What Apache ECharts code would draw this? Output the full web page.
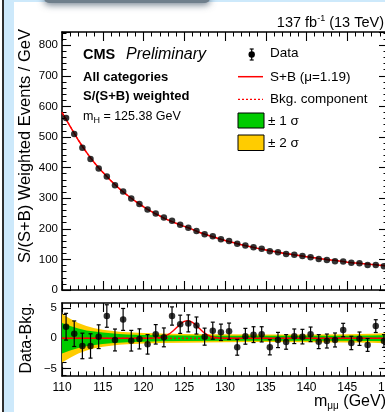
<!DOCTYPE html>
<html>
<head>
<meta charset="utf-8">
<script src="https://cdn.jsdelivr.net/npm/echarts@6/dist/echarts.min.js"></script>
<style>html,body{margin:0;padding:0;background:#fff;}#c{width:385px;height:412px;}</style>
</head>
<body>
<div id="c"></div>
<script>
// ---------------- data ----------------
const binCenters = [110.5,111.5,112.5,113.5,114.5,115.5,116.5,117.5,118.5,119.5,
  120.5,121.5,122.5,123.5,124.5,125.5,126.5,127.5,128.5,129.5,
  130.5,131.5,132.5,133.5,134.5,135.5,136.5,137.5,138.5,139.5,
  140.5,141.5,142.5,143.5,144.5,145.5,146.5,147.5,148.5,149.5];
const weightedEvents = [562,510,465,428,397,371,342,322,299,281,
  263,250,237,226,213,203,193,182,176,166,
  160,151,145,140,135,127,123,118,115,111,
  107,101,98,94,93,89,87,82,82,78];
const fitMass = [110,111,112,113,114,115,116,117,118,119,120,121,122,123,124,125,126,127,128,129,
  130,131,132,133,134,135,136,137,138,139,140,141,142,143,144,145,146,147,148,149,150];
const fitSB = [580,535,490,450,415,385,357,332,310,290,272,256,242,229,218,208,198,187,178,170,
  162,155,148,142,136,131,126,121,117,113,109,105,101,98,95,91,88.5,86,83.5,81,78.5];
const residVals = [1.9,0.75,-1.26,-1.26,0.26,3.66,-0.28,3.1,-0.4,-0.1,
  -1.0,0.65,0.15,3.66,2.3,2.45,2.1,0.27,1.25,0.98,
  1.15,-1.48,0.33,0.6,0.65,-1.48,-0.28,-0.6,0.33,0.27,
  0.65,-0.55,-0.45,-0.28,1.36,-0.77,-0.07,-1.1,2.0,-0.45];
const residErr = [2.2,2.1,2.1,2.0,1.95,1.85,1.8,1.8,1.7,1.65,
  1.6,1.6,1.55,1.5,1.5,1.4,1.4,1.4,1.4,1.35,
  1.35,1.3,1.3,1.3,1.25,1.25,1.25,1.2,1.2,1.2,
  1.2,1.15,1.15,1.15,1.1,1.1,1.1,1.05,1.05,1.05];
const bandMass = [110,111,112,113,114,115,116,117,118,120,122,125,130,135,140,145,148,150];
const sigma1 = [2.5,2.0,1.6,1.3,1.1,0.95,0.82,0.72,0.64,0.55,0.5,0.46,0.42,0.4,0.4,0.42,0.45,0.5];
const sigma2 = [4.0,3.2,2.5,2.0,1.65,1.4,1.22,1.08,0.98,0.85,0.78,0.72,0.66,0.63,0.64,0.68,0.75,0.85];
const sigMass = [110,120,120.5,121,121.5,122,122.5,123,123.5,124,124.5,125,125.5,126,126.5,127,127.5,128,128.5,129,129.5,130,131,150];
const sigVals = [0,0,0.01,0.03,0.06,0.12,0.29,0.6,1.08,1.69,2.32,2.78,2.9,2.63,2.08,1.44,0.86,0.45,0.21,0.08,0.03,0.01,0,0];
const resBkgMass = [110,150];
const resBkgVals = [0,0];
const xTicksMajor = 5;
const topYTicks = 100;
const resMajorTicks = [-5,0,5];
const resMinorTicks = [-6,-5,-4,-3,-2,-1,0,1,2,3,4,5];

// ---------------- style ----------------
const FF = '"Liberation Sans", Arial, Helvetica, sans-serif';
const BLACK = '#000';
const RED = '#ff0000';
const GREEN = '#00cc00';
const YELLOW = '#ffcc00';
const lineSt = {color: BLACK, width: 1.6};

function xAx(grid, pos, showLabel) {
  return {
    type: 'value', gridIndex: grid, position: pos, min: 110, max: 150, interval: xTicksMajor,
    axisLine: {show: true, onZero: false, lineStyle: lineSt},
    axisTick: {show: true, inside: true, length: 9, lineStyle: {color: BLACK, width: 1.1}},
    minorTick: {show: true, splitNumber: 5, length: 4.5, lineStyle: {color: BLACK, width: 1}},
    splitLine: {show: false}, minorSplitLine: {show: false},
    axisLabel: {show: showLabel, color: BLACK, fontSize: 12, fontFamily: FF, margin: 6, hideOverlap: false}
  };
}
function resY(pos, ticks, len, showLine, showLabel) {
  return {
    type: 'value', gridIndex: 1, position: pos, min: -6.2, max: 5.8,
    axisLine: {show: showLine, onZero: false, lineStyle: lineSt},
    axisTick: {show: true, inside: true, length: len, customValues: ticks, lineStyle: {color: BLACK, width: 1.1}},
    splitLine: {show: false},
    axisLabel: {show: showLabel, customValues: resMajorTicks, color: BLACK, fontSize: 11.5, fontFamily: FF, margin: 5,
      formatter: v => (v < 0 ? '\u2212' + Math.abs(v) : String(v))}
  };
}
function topY(pos, showLabel) {
  return {
    type: 'value', gridIndex: 0, position: pos, min: 0, max: 843, interval: topYTicks,
    axisLine: {show: true, onZero: false, lineStyle: lineSt},
    axisTick: {show: true, inside: true, length: 9, lineStyle: {color: BLACK, width: 1.1}},
    minorTick: {show: true, splitNumber: 5, length: 4.5, lineStyle: {color: BLACK, width: 1}},
    splitLine: {show: false}, minorSplitLine: {show: false},
    axisLabel: {show: showLabel, showMaxLabel: false, color: BLACK, fontSize: 11.5, fontFamily: FF, margin: 4,
      formatter: v => (v > 800 ? '' : String(v))}
  };
}

const chart = echarts.init(document.getElementById('c'), null, {renderer: 'canvas'});

const option = {
  animation: false,
  backgroundColor: '#fff',
  grid: [
    {left: 62, top: 32, right: -3, height: 258, containLabel: false, outerBoundsMode: 'none'},
    {left: 62, top: 303, right: -3, height: 73, containLabel: false, outerBoundsMode: 'none'}
  ],
  xAxis: [xAx(0, 'bottom', false), xAx(0, 'top', false), xAx(1, 'bottom', true), xAx(1, 'top', false)],
  yAxis: [
    topY('left', true), topY('right', false),
    resY('left', resMajorTicks, 9, true, true), resY('left', resMinorTicks, 4.5, false, false),
    resY('right', resMajorTicks, 9, true, false), resY('right', resMinorTicks, 4.5, false, false)
  ],
  series: [
    {type: 'line', xAxisIndex: 0, yAxisIndex: 0, data: fitMass.map((m, i) => [m, fitSB[i]]),
      smooth: true, showSymbol: false, symbol: 'none', lineStyle: {color: RED, width: 1.2, type: [2, 2]}, z: 2},
    {type: 'line', xAxisIndex: 0, yAxisIndex: 0, data: fitMass.map((m, i) => [m, fitSB[i]]),
      smooth: true, showSymbol: false, symbol: 'none', lineStyle: {color: RED, width: 1.5}, z: 3},
    {type: 'scatter', xAxisIndex: 0, yAxisIndex: 0, data: binCenters.map((m, i) => [m, weightedEvents[i]]),
      symbol: 'circle', symbolSize: 6.5, itemStyle: {color: BLACK}, z: 5},
    {type: 'custom', xAxisIndex: 2, yAxisIndex: 2, clip: true,
      data: bandMass.map((m, i) => [m, sigma1[i], sigma2[i]]),
      encode: {x: 0, y: [1, 2]},
      renderItem: function (params, api) {
        if (params.dataIndex !== 0) return null;
        const poly = (arr) => {
          const up = bandMass.map((m, i) => api.coord([m, arr[i]]));
          const lo = bandMass.map((m, i) => api.coord([m, -arr[i]])).reverse();
          return up.concat(lo);
        };
        return {type: 'group', children: [
          {type: 'polygon', shape: {points: poly(sigma2), smooth: 0}, style: {fill: YELLOW}},
          {type: 'polygon', shape: {points: poly(sigma1), smooth: 0}, style: {fill: GREEN}}
        ]};
      }, z: 1},
    {type: 'line', xAxisIndex: 2, yAxisIndex: 2, data: resBkgMass.map((m, i) => [m, resBkgVals[i]]),
      showSymbol: false, symbol: 'none', lineStyle: {color: RED, width: 1.2, type: [2, 2]}, z: 2},
    {type: 'line', xAxisIndex: 2, yAxisIndex: 2, data: sigMass.map((m, i) => [m, sigVals[i]]),
      smooth: 0.3, showSymbol: false, symbol: 'none', lineStyle: {color: RED, width: 1.4}, z: 3},
    {type: 'custom', xAxisIndex: 2, yAxisIndex: 2, clip: true,
      data: binCenters.map((m, i) => [m, residVals[i] - residErr[i], residVals[i] + residErr[i]]),
      encode: {x: 0, y: [1, 2]},
      renderItem: function (params, api) {
        const lo = api.coord([api.value(0), api.value(1)]);
        const hi = api.coord([api.value(0), api.value(2)]);
        const st = {stroke: BLACK, lineWidth: 1.2};
        return {type: 'group', children: [
          {type: 'line', shape: {x1: lo[0], y1: lo[1], x2: hi[0], y2: hi[1]}, style: st},
          {type: 'line', shape: {x1: lo[0] - 2, y1: lo[1], x2: lo[0] + 2, y2: lo[1]}, style: st},
          {type: 'line', shape: {x1: hi[0] - 2, y1: hi[1], x2: hi[0] + 2, y2: hi[1]}, style: st}
        ]};
      }, z: 4},
    {type: 'scatter', xAxisIndex: 2, yAxisIndex: 2, data: binCenters.map((m, i) => [m, residVals[i]]),
      symbol: 'circle', symbolSize: 6.5, itemStyle: {color: BLACK}, z: 5}
  ],
  graphic: [
    // page decorations
    {type: 'rect', shape: {x: 2, y: 0, width: 2, height: 412}, style: {fill: '#2e2e2e'}, z: 100},
    {type: 'rect', shape: {x: 4, y: 0, width: 10, height: 412}, style: {fill: '#cde9fb'}, z: 100},
    {type: 'rect', shape: {x: 14, y: 0, width: 371, height: 2}, style: {fill: '#cde9fb'}, z: 100},
    {type: 'rect', shape: {x: 44, y: -8, width: 166, height: 11, r: 5},
      style: {fill: '#6f7f8c', shadowBlur: 7, shadowColor: 'rgba(60,80,100,0.7)', shadowOffsetY: 2}, z: 101},
    // titles
    {type: 'text', x: 384, y: 23, z: 100, style: {
      text: '{n|137 fb}{s|-1}{n| (13 TeV)}', align: 'right', verticalAlign: 'middle', textAlign: 'right', textVerticalAlign: 'middle',
      rich: {n: {fontSize: 14.5, fontFamily: FF, fill: BLACK, color: BLACK},
             s: {fontSize: 9, fontFamily: FF, fill: BLACK, color: BLACK, padding: [0, 0, 8, 0]}}}},
    {type: 'text', x: 83, y: 55, z: 100, style: {text: 'CMS', fontSize: 14.5, fontWeight: 'bold', fontFamily: FF, fill: BLACK,
      align: 'left', verticalAlign: 'middle', textAlign: 'left', textVerticalAlign: 'middle'}},
    {type: 'text', x: 126, y: 55, z: 100, style: {text: 'Preliminary', fontSize: 16, fontStyle: 'italic', fontFamily: FF, fill: BLACK,
      align: 'left', verticalAlign: 'middle', textAlign: 'left', textVerticalAlign: 'middle'}},
    {type: 'text', x: 83, y: 77, z: 100, style: {text: 'All categories', fontSize: 13, fontWeight: 'bold', fontFamily: FF, fill: BLACK,
      align: 'left', verticalAlign: 'middle', textAlign: 'left', textVerticalAlign: 'middle'}},
    {type: 'text', x: 83, y: 96.5, z: 100, style: {text: 'S/(S+B) weighted', fontSize: 13, fontWeight: 'bold', fontFamily: FF, fill: BLACK,
      align: 'left', verticalAlign: 'middle', textAlign: 'left', textVerticalAlign: 'middle'}},
    {type: 'text', x: 83, y: 117, z: 100, style: {
      text: '{n|m}{s|H}{n| = 125.38 GeV}', align: 'left', verticalAlign: 'middle', textAlign: 'left', textVerticalAlign: 'middle',
      rich: {n: {fontSize: 12.5, fontFamily: FF, fill: BLACK, color: BLACK},
             s: {fontSize: 9, fontFamily: FF, fill: BLACK, color: BLACK, padding: [7, 0, 0, 0]}}}},
    // legend
    {type: 'line', shape: {x1: 251.7, y1: 49, x2: 251.7, y2: 60}, style: {stroke: BLACK, lineWidth: 1.2}, z: 100},
    {type: 'line', shape: {x1: 249.7, y1: 49, x2: 253.7, y2: 49}, style: {stroke: BLACK, lineWidth: 1.2}, z: 100},
    {type: 'line', shape: {x1: 249.7, y1: 60, x2: 253.7, y2: 60}, style: {stroke: BLACK, lineWidth: 1.2}, z: 100},
    {type: 'circle', shape: {cx: 251.7, cy: 54.5, r: 3.2}, style: {fill: BLACK}, z: 100},
    {type: 'text', x: 270, y: 53.5, z: 100, style: {text: 'Data', fontSize: 13.5, fontFamily: FF, fill: BLACK,
      align: 'left', verticalAlign: 'middle', textAlign: 'left', textVerticalAlign: 'middle'}},
    {type: 'line', shape: {x1: 238, y1: 76.7, x2: 263, y2: 76.7}, style: {stroke: RED, lineWidth: 1.5}, z: 100},
    {type: 'text', x: 270, y: 77.5, z: 100, style: {text: 'S+B (\u03bc=1.19)', fontSize: 13.5, fontFamily: FF, fill: BLACK,
      align: 'left', verticalAlign: 'middle', textAlign: 'left', textVerticalAlign: 'middle'}},
    {type: 'line', shape: {x1: 238, y1: 99.3, x2: 263, y2: 99.3}, style: {stroke: RED, lineWidth: 1.2, lineDash: [2, 2]}, z: 100},
    {type: 'text', x: 270, y: 99, z: 100, style: {text: 'Bkg. component', fontSize: 13.5, fontFamily: FF, fill: BLACK,
      align: 'left', verticalAlign: 'middle', textAlign: 'left', textVerticalAlign: 'middle'}},
    {type: 'rect', shape: {x: 238, y: 113, width: 26, height: 15}, style: {fill: GREEN, stroke: BLACK, lineWidth: 1}, z: 100},
    {type: 'text', x: 268, y: 121, z: 100, style: {text: '\u00b1 1 \u03c3', fontSize: 13.5, fontFamily: FF, fill: BLACK,
      align: 'left', verticalAlign: 'middle', textAlign: 'left', textVerticalAlign: 'middle'}},
    {type: 'rect', shape: {x: 238, y: 135, width: 26, height: 15.5}, style: {fill: YELLOW, stroke: BLACK, lineWidth: 1}, z: 100},
    {type: 'text', x: 268, y: 143, z: 100, style: {text: '\u00b1 2 \u03c3', fontSize: 13.5, fontFamily: FF, fill: BLACK,
      align: 'left', verticalAlign: 'middle', textAlign: 'left', textVerticalAlign: 'middle'}},
    // axis titles
    {type: 'text', x: 25, y: 146, rotation: Math.PI / 2, z: 100, style: {text: 'S/(S+B) Weighted Events / GeV', fontSize: 16.5, fontFamily: FF, fill: BLACK,
      align: 'center', verticalAlign: 'middle', textAlign: 'center', textVerticalAlign: 'middle'}},
    {type: 'text', x: 27, y: 338, rotation: Math.PI / 2, z: 100, style: {text: 'Data-Bkg.', fontSize: 16, fontFamily: FF, fill: BLACK,
      align: 'center', verticalAlign: 'middle', textAlign: 'center', textVerticalAlign: 'middle'}},
    {type: 'text', x: 386, y: 402, z: 100, style: {
      text: '{n|m}{s|\u03bc\u03bc}{n| (GeV)}', align: 'right', verticalAlign: 'middle', textAlign: 'right', textVerticalAlign: 'middle',
      rich: {n: {fontSize: 16, fontFamily: FF, fill: BLACK, color: BLACK},
             s: {fontSize: 10, fontFamily: FF, fill: BLACK, color: BLACK, padding: [8, 0, 0, 0]}}}}
  ]
};
chart.setOption(option);
</script>
</body>
</html>
